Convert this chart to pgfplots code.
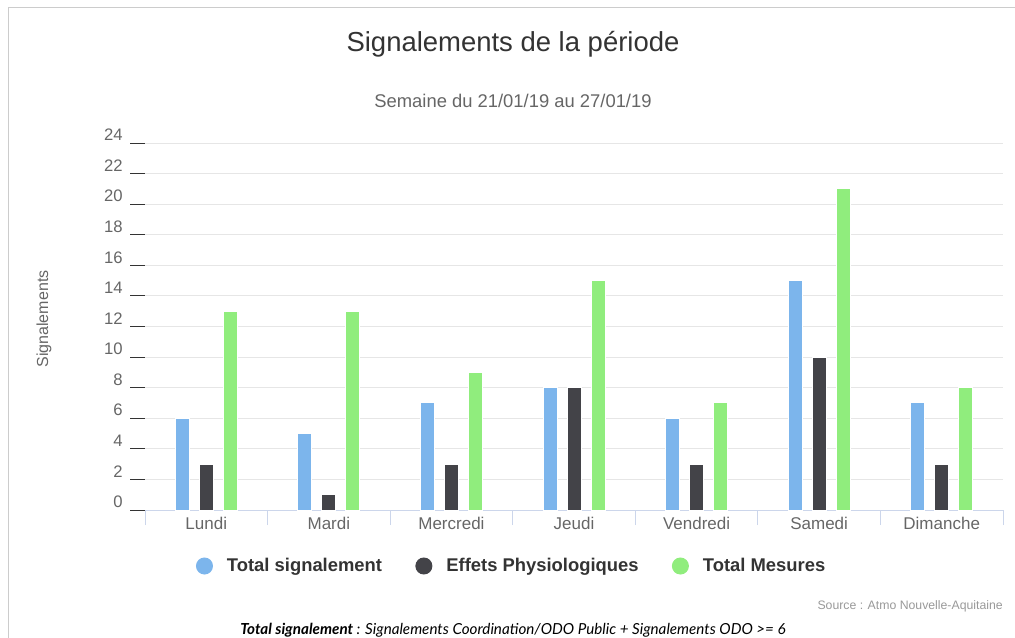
\documentclass[border=0pt]{standalone}
\usepackage{pgfplots}
\pgfplotsset{compat=1.18}
\usepackage{fontspec}
\setmainfont{Liberation Sans}
\newfontfamily\latofont{Lato}
\definecolor{hcblue}{HTML}{7CB5EC}
\definecolor{hcdark}{HTML}{434348}
\definecolor{hcgreen}{HTML}{90ED7D}
\definecolor{hcaxis}{HTML}{CCD6EB}
\definecolor{hcgrid}{HTML}{E6E6E6}
\definecolor{txtA}{HTML}{333333}
\definecolor{txtB}{HTML}{666666}
\definecolor{txtC}{HTML}{999999}
\definecolor{framec}{HTML}{CCCCCC}
\begin{document}
\begin{tikzpicture}[x=0.75pt,y=-0.75pt]
\useasboundingbox (0,0) rectangle (1015,638);
\draw[framec, line width=0.9pt] (8.5,638) -- (8.5,7.5) -- (1015,7.5);
\coordinate (axorig) at (145,510);
\begin{axis}[
  at={(axorig)}, anchor=south west, scale only axis,
  width=643.5pt, height=275.25pt,
  xmin=-0.5, xmax=6.5, ymin=0, ymax=24,
  ybar=7.5pt, bar width=10.5pt,
  axis x line*=bottom, axis y line*=left,
  x axis line style={draw=hcaxis, line width=0.75pt},
  y axis line style={draw=none},
  xtick={0,...,6},
  xticklabels={Lundi,Mardi,Mercredi,Jeudi,Vendredi,Samedi,Dimanche},
  x tick style={draw=none},
  extra x ticks={-0.5,0.5,...,6.5},
  extra x tick labels={},
  extra x tick style={x tick style={draw=hcaxis, line width=0.75pt}},
  ytick={0,2,...,24},
  y tick style={draw=txtA, line width=0.75pt},
  major tick length=11.25pt,
  tick align=outside,
  ymajorgrids, major grid style={draw=hcgrid, line width=0.75pt},
  /pgf/number format/assume math mode=true,
  yticklabel style={font=\fontsize{12.5}{14}\selectfont, text=txtB, yshift=6pt, xshift=-2pt},
  xticklabel style={font=\fontsize{12.75}{15}\selectfont, text=txtB, yshift=9.5pt},
  legend style={at={(axis description cs:0.4277,-0.1526)}, anchor=center, draw=none, fill=none,
    legend columns=3, font=\bfseries\fontsize{13.8}{16}\selectfont, text=txtA,
    /tikz/every odd column/.append style={column sep=8.5pt},
    /tikz/every even column/.append style={column sep=23pt}},
  legend cell align=left,
]
\addplot[fill=hcblue, draw=white, line width=0.75pt,
  legend image code/.code={\fill[hcblue] (0pt,0pt) circle (6pt);}]
  coordinates {(0,6)(1,5)(2,7)(3,8)(4,6)(5,15)(6,7)};
\addplot[fill=hcdark, draw=white, line width=0.75pt,
  legend image code/.code={\fill[hcdark] (0pt,0pt) circle (6pt);}]
  coordinates {(0,3)(1,1)(2,3)(3,8)(4,3)(5,10)(6,3)};
\addplot[fill=hcgreen, draw=white, line width=0.75pt,
  legend image code/.code={\fill[hcgreen] (0pt,0pt) circle (6pt);}]
  coordinates {(0,13)(1,13)(2,9)(3,15)(4,7)(5,21)(6,8)};
\legend{Total signalement, Effets Physiologiques, Total Mesures}
\end{axis}
\node[font=\fontsize{20.6}{24}\selectfont, text=txtA] at (513,44) {Signalements de la période};
\node[font=\fontsize{13.8}{16}\selectfont, text=txtB] at (513,101) {Semaine du 21/01/19 au 27/01/19};
\node[rotate=90, font=\fontsize{12}{14}\selectfont, text=txtB] at (44,319) {Signalements};
\node[anchor=east, font=\fontsize{9.2}{11}\selectfont, text=txtC, inner sep=0pt] at (1003,606) {Source : Atmo Nouvelle-Aquitaine};
\node[font=\latofont\itshape\fontsize{11.4}{13}\selectfont, text=black] at (513,630) {\textbf{Total signalement} : Signalements Coordination/ODO Public + Signalements ODO >= 6};
\end{tikzpicture}
\end{document}
